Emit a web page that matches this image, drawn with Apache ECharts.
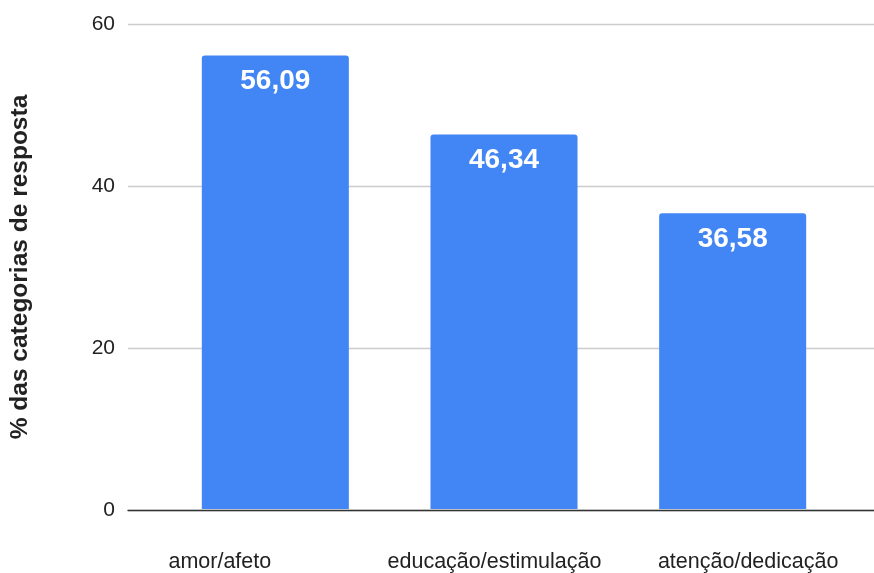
<!DOCTYPE html>
<html>
<head>
<meta charset="utf-8">
<script src="https://cdn.jsdelivr.net/npm/echarts@6/dist/echarts.min.js"></script>
<style>html,body{margin:0;padding:0;background:#fff}#c{width:874px;height:573px}</style>
</head>
<body>
<div id="c"></div>
<script>
const categories = ['amor/afeto', 'educação/estimulação', 'atenção/dedicação'];
const values = [56.09, 46.34, 36.58];
const yTicks = [0, 20, 40, 60];
const yTitle = '% das categorias de resposta';

const FONT = '"Liberation Sans", Arial, sans-serif';
const chart = echarts.init(document.getElementById('c'));
const labelStyles = ['l0', 'l1', 'l2'];
chart.setOption({
  animation: false,
  grid: [
    {left: 122, right: 0, top: 24, bottom: 63},
    {left: 161, width: 686, top: 24, bottom: 63}
  ],
  xAxis: [
    {gridIndex: 0, type: 'value', min: 0, max: 1, axisLine: {show: true, lineStyle: {color: '#333', width: 1.3}},
     axisTick: {show: false}, axisLabel: {show: false}, splitLine: {show: false}},
    {gridIndex: 1, type: 'category', data: categories,
     axisLine: {show: false}, axisTick: {show: false},
     axisLabel: {
       interval: 0, hideOverlap: false,
       margin: 42, fontFamily: FONT, fontSize: 21.5, color: '#222',
       formatter: function (v, i) { return '{' + labelStyles[i] + '|' + v + '}'; },
       rich: {
         l0: {fontFamily: FONT, fontSize: 21.5, color: '#222', padding: [0, 111, 0, 0]},
         l1: {fontFamily: FONT, fontSize: 21.5, color: '#222', padding: [0, 19, 0, 0]},
         l2: {fontFamily: FONT, fontSize: 21.5, color: '#222', padding: [0, 0, 0, 31]}
       }
     }}
  ],
  yAxis: [
    {gridIndex: 0, type: 'value', min: yTicks[0], max: yTicks[yTicks.length - 1], interval: 20,
     name: yTitle, nameLocation: 'middle', nameGap: 95,
     nameTextStyle: {fontFamily: FONT, fontSize: 24.5, fontWeight: 'bold', color: '#222'},
     axisLine: {show: false}, axisTick: {show: false},
     axisLabel: {margin: 13, fontFamily: FONT, fontSize: 21, color: '#222'},
     splitLine: {lineStyle: {color: '#ccc', width: 1.3}}},
    {gridIndex: 1, type: 'value', min: 0, max: 60, interval: 20, show: false}
  ],
  series: [{
    type: 'bar', xAxisIndex: 1, yAxisIndex: 1, data: values,
    barWidth: '64.3%',
    itemStyle: {color: '#4285F4', borderRadius: [3, 3, 0, 0]},
    label: {show: true, position: 'insideTop', distance: 12,
      fontFamily: FONT, fontSize: 28, fontWeight: 'bold', color: '#fff',
      formatter: p => p.value.toFixed(2).replace('.', ',')}
  }]
});
</script>
</body>
</html>
